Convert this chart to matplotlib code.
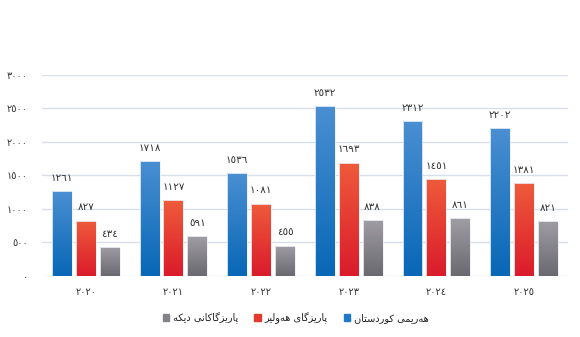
import numpy as np
import matplotlib
matplotlib.use("Agg")
import matplotlib.pyplot as plt
from matplotlib.colors import to_rgb
from matplotlib.patches import Patch

# data
years = ["2020", "2021", "2022", "2023", "2024", "2025"]
kurdistan = [1261, 1718, 1536, 2532, 2312, 2202]
erbil = [827, 1127, 1081, 1693, 1451, 1381]
others = [434, 591, 455, 838, 861, 821]
y_ticks = [0, 500, 1000, 1500, 2000, 2500, 3000]
labels = ["هەرێمی کوردستان", "پارێزگای هەولێر", "پارێزگاکانی دیکە"]

# (top colour, bottom colour) of each series gradient
grads = [("#4a8fd2", "#0867b6"), ("#ef5b3b", "#da1b2b"), ("#a09ea4", "#6b6970")]
flat = ["#1f78c8", "#e33a30", "#85838a"]

DIGITS = str.maketrans("0123456789", "٠١٢٣٤٥٦٧٨٩")


def ar_num(v):
    return str(v).translate(DIGITS)


# tiny arabic shaper: matplotlib draws no joined forms by itself
# forms: isolated, final, initial, medial
FORMS = {
    "ا": ("\uFE8D", "\uFE8E"),
    "ر": ("\uFEAD", "\uFEAE"),
    "ز": ("\uFEAF", "\uFEB0"),
    "د": ("\uFEA9", "\uFEAA"),
    "و": ("\uFEED", "\uFEEE"),
    "ە": ("\uFEE9", "\uFEEA"),
    "ه": ("\uFEE9", "\uFEEA", "\uFEEB", "\uFEEC"),
    "م": ("\uFEE1", "\uFEE2", "\uFEE3", "\uFEE4"),
    "ن": ("\uFEE5", "\uFEE6", "\uFEE7", "\uFEE8"),
    "ت": ("\uFE95", "\uFE96", "\uFE97", "\uFE98"),
    "س": ("\uFEB1", "\uFEB2", "\uFEB3", "\uFEB4"),
    "ل": ("\uFEDD", "\uFEDE", "\uFEDF", "\uFEE0"),
    "ی": ("\uFBFC", "\uFBFD", "\uFBFE", "\uFBFF"),
    "ێ": ("\uFBFC", "\uFBFD", "\uFBFE", "\uFBFF"),
    "ک": ("\uFB8E", "\uFB8F", "\uFB90", "\uFB91"),
    "گ": ("\uFB92", "\uFB93", "\uFB94", "\uFB95"),
    "پ": ("\uFB56", "\uFB57", "\uFB58", "\uFB59"),
}


def shape(text):
    out = []
    for i, ch in enumerate(text):
        f = FORMS.get(ch)
        if f is None:
            out.append(ch)
            continue
        prev = text[i - 1] if i > 0 else ""
        nxt = text[i + 1] if i + 1 < len(text) else ""
        pj = prev in FORMS and len(FORMS[prev]) == 4
        nj = len(f) == 4 and nxt in FORMS
        if pj and nj:
            out.append(f[3])
        elif pj:
            out.append(f[1])
        elif nj:
            out.append(f[2])
        else:
            out.append(f[0])
    return "".join(out)[::-1]


plt.rcParams["font.family"] = ["DejaVu Sans"]

fig = plt.figure(figsize=(5.8, 3.37), dpi=100)
ax = fig.add_axes([0.0724, 0.181, 0.979 - 0.0724, 0.5966])

x = np.arange(len(years))
w = 20 / 88
step = 24 / 88
series = [kurdistan, erbil, others]

for k, vals in enumerate(series):
    bars = ax.bar(x + (k - 1) * step, vals, w, color="none",
                  edgecolor="#eef2f8", linewidth=0.6, zorder=3)
    top, bot = to_rgb(grads[k][0]), to_rgb(grads[k][1])
    grad = np.linspace(top, bot, 256).reshape(256, 1, 3)
    for b in bars:
        bx, bw, bh = b.get_x(), b.get_width(), b.get_height()
        im = ax.imshow(grad, extent=[bx, bx + bw, 0, bh], aspect="auto",
                       zorder=2.5, interpolation="bilinear")
        im.set_clip_path(b)
        ax.annotate(ar_num(b.get_height()), (bx + bw / 2, bh),
                    xytext=(0, 9.5), textcoords="offset points",
                    ha="center", va="center", fontsize=7.5,
                    color="#333333")

ax.set_xlim(-0.5, len(years) - 0.5)
ax.set_ylim(0, 3000)
ax.set_yticks(y_ticks)
ax.set_yticklabels([ar_num(t) for t in y_ticks], fontsize=7, color="#333333")
ax.set_xticks(x)
ax.set_xticklabels([ar_num(y) for y in years], fontsize=7, color="#333333")
ax.tick_params(axis="y", length=0, pad=10)
ax.tick_params(axis="x", length=0, pad=8)
ax.grid(axis="y", color="#d9dfea", linewidth=1, zorder=0)
ax.set_axisbelow(True)
for s in ax.spines.values():
    s.set_visible(False)

handles = [Patch(color=flat[2]), Patch(color=flat[1]), Patch(color=flat[0])]
fig.legend(handles, [shape(labels[2]), shape(labels[1]), shape(labels[0])],
           loc="center", bbox_to_anchor=(0.51, 0.056), ncol=3, frameon=False,
           fontsize=7, handlelength=0.7, handleheight=0.7,
           handletextpad=0.4, columnspacing=1.6, labelcolor="#222222")

fig.savefig("out.png", dpi=100)
